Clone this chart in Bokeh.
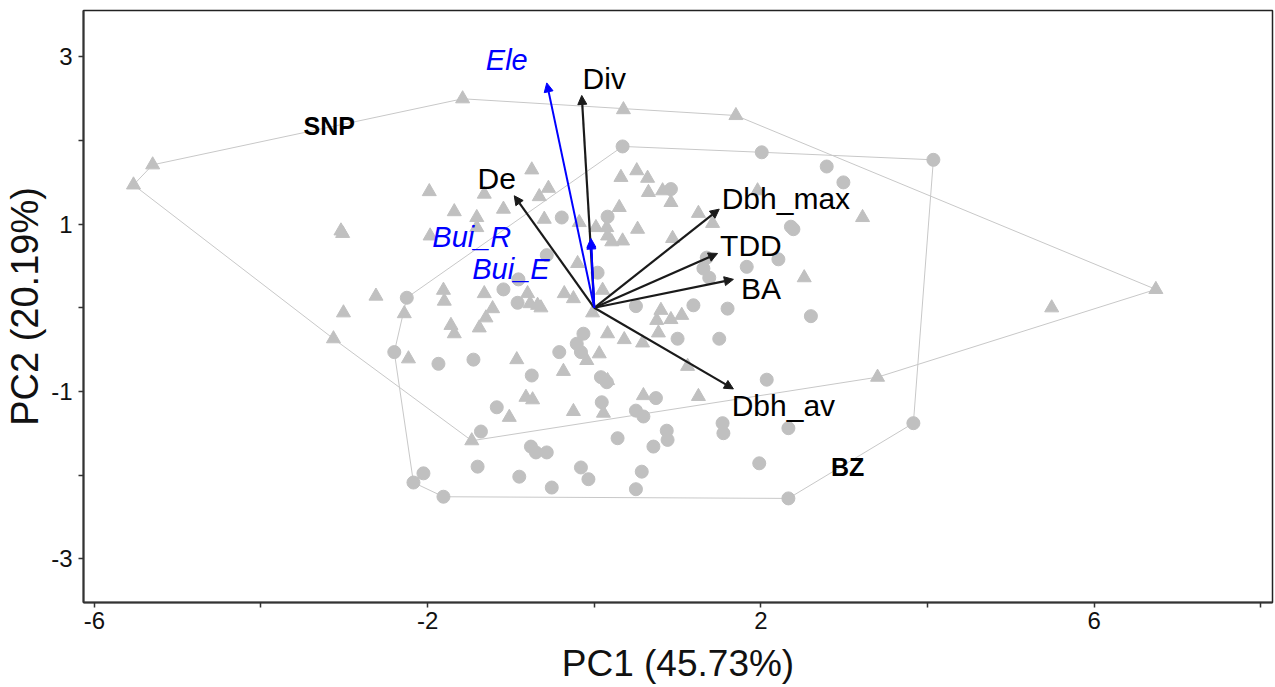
from bokeh.plotting import figure
from bokeh.models import ColumnDataSource, Arrow, NormalHead, FixedTicker, Range1d
from bokeh.core.properties import value
from bokeh.embed import file_html
from bokeh.resources import INLINE

# ---------------- data ----------------
snp_pc1 = [-1.58, 0.35, 1.70, -5.30, -5.53, 6.74, 5.49, 3.40, -1.47, -3.13,
           3.22, 2.52, -0.75, -1.98, -1.32, -0.66, -0.55, -1.68, -1.41, -1.09,
           -0.60, -0.18, 0.02, 0.15, 0.16, 0.21, 0.34, 0.52, -3.04, -3.02,
           -1.97, 0.32, 0.51, 0.64, 0.65, 0.30, 0.92, 0.82, 1.25, 1.42,
           0.94, 0.80, 0.75, 0.92, 1.05, 0.10, -0.02, 1.96, -2.62, -3.01,
           -2.28, -1.81, -1.80, -1.32, -1.22, -0.80, -0.77, -0.68, -0.64, -0.36,
           -0.25, -0.20, -1.30, -1.38, -1.72, -1.68, -2.23, -0.93, -0.37, -0.09,
           0.06, 0.16, -0.82, -0.74, -1.02, -0.25, 0.11, 0.36, 0.58, 0.77,
           1.12, 0.16, 0.59, 1.25, -1.41]
snp_pc2 = [2.50, 2.37, 2.30, 1.71, 1.47, 0.22, 0.00, -0.83, -1.59, -0.37,
           1.08, 0.36, 1.65, 1.39, 1.36, 1.33, 1.43, 1.15, 1.08, 1.18,
           1.06, 1.02, 0.96, 0.96, 0.86, 0.79, 0.80, 0.94, 0.92, 0.89,
           0.86, 1.56, 1.64, 1.55, 1.38, 1.20, 1.26, 1.40, 1.13, 1.01,
           0.83, -0.03, -0.15, -0.14, -0.09, 0.21, -0.06, 1.40, 0.14, -0.06,
           -0.07, 0.21, 0.08, 0.17, -0.01, 0.17, 0.05, 0.03, 0.00, 0.17,
           0.11, 0.53, -0.12, -0.24, -0.21, -0.31, -0.61, -0.62, -0.76, -0.63,
           -0.55, -0.31, -1.07, -1.10, -1.31, -1.24, -1.26, -0.38, -0.42, -0.30,
           -0.70, -0.87, -1.05, -1.06, 0.96]

bz_pc1 = [0.34, 2.01, 2.79, 2.99, 4.07, 0.92, -0.39, 0.16, 2.36, 2.39,
          -2.25, -1.09, -0.92, -0.57, -0.91, 0.04, 1.35, 1.31, 1.38, 1.83,
          2.21, 1.19, 1.60, 2.60, 0.50, -0.13, 1.00, 1.50, -0.16, 0.08,
          2.07, 0.09, 0.74, 0.50, 0.59, 1.54, 1.55, 2.33, 0.28, 0.87,
          0.88, 0.71, -0.16, -0.07, 0.57, 0.50, 1.98, 2.33, 3.83, -2.40,
          -1.87, -1.45, -0.75, -0.42, -0.21, 0.15, -1.17, -1.36, -0.76, -0.70,
          -0.57, -1.40, -0.90, -0.51, -2.05, -2.17, -1.81]
bz_pc2 = [1.93, 1.86, 1.69, 1.50, 1.77, 1.42, 1.08, 1.09, 0.97, 0.94,
          0.12, 0.22, 0.06, 0.63, 0.34, 0.42, 0.60, 0.47, 0.36, 0.49,
          0.58, 0.03, -0.01, -0.10, 0.02, -0.31, -0.37, -0.37, -0.53, -0.83,
          -0.86, -1.13, -1.08, -1.23, -1.30, -1.38, -1.50, -1.44, -1.56, -1.47,
          -1.58, -1.66, -1.91, -2.05, -1.96, -2.17, -1.86, -2.28, -1.38, -0.53,
          -0.67, -0.62, -0.81, -0.53, -0.43, -0.89, -1.19, -1.48, -1.66, -1.73,
          -1.73, -1.90, -2.02, -2.15, -1.98, -2.09, -2.26]

var_names = ["Div", "De", "Dbh_max", "TDD", "BA", "Dbh_av"]
var_pc1 = [-0.15, -0.96, 1.50, 1.48, 1.67, 1.67]
var_pc2 = [2.54, 1.34, 1.18, 0.65, 0.34, -0.97]
var_label_x = [0.12, -1.17, 2.30, 1.88, 2.00, 2.27]
var_label_y = [2.74, 1.55, 1.31, 0.75, 0.23, -1.17]

env_names = ["Ele", "Bui_R", "Bui_E"]
env_pc1 = [-0.57, -0.04, -0.04]
env_pc2 = [2.69, 0.83, 0.81]
env_label_x = [-1.05, -1.47, -1.00]
env_label_y = [2.96, 0.85, 0.47]

group_names = ["SNP", "BZ"]
group_label_x = [-3.18, 3.04]
group_label_y = [2.17, -1.91]

x_ticks = [-6, -4, -2, 0, 2, 4, 6, 8]
x_tick_labels = ["-6", "", "-2", "", "2", "", "6", ""]
y_ticks = [-3, -2, -1, 0, 1, 2, 3]
y_tick_labels = ["-3", "", "-1", "", "1", "", "3"]

FONT = "Liberation Sans"
GREY = "#c0c0c0"
HULL = "#c8c8c8"
BLUE = "#0000ff"
DARK = "#1a1a1a"


def convex_hull(xs, ys):
    pts = sorted(set(zip(xs, ys)))

    def cross(o, a, b):
        return (a[0] - o[0]) * (b[1] - o[1]) - (a[1] - o[1]) * (b[0] - o[0])

    lower = []
    for q in pts:
        while len(lower) >= 2 and cross(lower[-2], lower[-1], q) <= 0:
            lower.pop()
        lower.append(q)
    upper = []
    for q in reversed(pts):
        while len(upper) >= 2 and cross(upper[-2], upper[-1], q) <= 0:
            upper.pop()
        upper.append(q)
    h = lower[:-1] + upper[:-1]
    h.append(h[0])
    return [a for a, b in h], [b for a, b in h]


p = figure(width=1275, height=687,
           x_range=Range1d(-6.13, 8.14), y_range=Range1d(-3.525, 3.556),
           output_backend="svg", toolbar_location=None,
           min_border_left=83, min_border_right=3, min_border_top=10,
           min_border_bottom=85, background_fill_color="white",
           border_fill_color="white")

p.xgrid.visible = False
p.ygrid.visible = False
p.outline_line_color = "#222222"
p.outline_line_width = 1.5

for ax, ticks, labels, lab in ((p.xaxis[0], x_ticks, x_tick_labels, "PC1 (45.73%)"),
                               (p.yaxis[0], y_ticks, y_tick_labels, "PC2 (20.19%)")):
    ax.ticker = FixedTicker(ticks=ticks)
    ax.major_label_overrides = {t: l for t, l in zip(ticks, labels)}
    ax.axis_label = lab
    ax.axis_label_text_font = FONT
    ax.axis_label_text_font_style = "normal"
    ax.axis_label_text_color = "#111111"
    ax.major_label_text_font = FONT
    ax.major_label_text_font_size = "24px"
    ax.major_label_text_color = "#111111"
    ax.major_tick_out = 5
    ax.major_tick_in = 0
    ax.minor_tick_out = 0
    ax.minor_tick_in = 0
    ax.axis_line_width = 2
    ax.axis_line_color = "#333333"
    ax.major_tick_line_color = "#333333"
    ax.major_tick_line_width = 1.5

p.xaxis[0].axis_label_text_font_size = "37px"
p.xaxis[0].major_label_standoff = 4
p.xaxis[0].axis_label_standoff = 11
p.yaxis[0].axis_label_text_font_size = "38px"
p.yaxis[0].major_label_standoff = 6
p.yaxis[0].axis_label_standoff = 2

# hulls
hx, hy = convex_hull(snp_pc1, snp_pc2)
p.line(hx, hy, line_color=HULL, line_width=1)
hx, hy = convex_hull(bz_pc1, bz_pc2)
p.line(hx, hy, line_color=HULL, line_width=1)

# points
p.scatter(snp_pc1, snp_pc2, marker="triangle", size=14, fill_color=GREY, line_color=GREY)
p.scatter(bz_pc1, bz_pc2, marker="circle", size=13, fill_color=GREY, line_color=GREY)

# arrows
n = len(var_names)
src_v = ColumnDataSource(dict(x0=[0] * n, y0=[0] * n, x1=var_pc1, y1=var_pc2))
p.add_layout(Arrow(end=NormalHead(size=9, fill_color=DARK, line_color=DARK, line_width=1),
                   x_start="x0", y_start="y0", x_end="x1", y_end="y1",
                   line_color=DARK, line_width=2.2, source=src_v))
m = len(env_names)
src_e = ColumnDataSource(dict(x0=[0] * m, y0=[0] * m, x1=env_pc1, y1=env_pc2))
p.add_layout(Arrow(end=NormalHead(size=9, fill_color=BLUE, line_color=BLUE, line_width=1),
                   x_start="x0", y_start="y0", x_end="x1", y_end="y1",
                   line_color=BLUE, line_width=2, source=src_e))

# labels
r1 = p.text(x=var_label_x, y=var_label_y, text=var_names, text_font=value(FONT),
            text_font_size="30px", text_color="#000000",
            text_align="center", text_baseline="middle")
r2 = p.text(x=env_label_x, y=env_label_y, text=env_names, text_font=value(FONT),
            text_font_size="29px", text_font_style="italic", text_color=BLUE,
            text_align="center", text_baseline="middle")
r3 = p.text(x=group_label_x, y=group_label_y, text=group_names, text_font=value(FONT),
            text_font_size="25px", text_font_style="bold", text_color="#000000",
            text_align="center", text_baseline="middle")
for r in (r1, r2, r3):
    r.level = "overlay"

open("out.html", "w").write(file_html(p, INLINE))
